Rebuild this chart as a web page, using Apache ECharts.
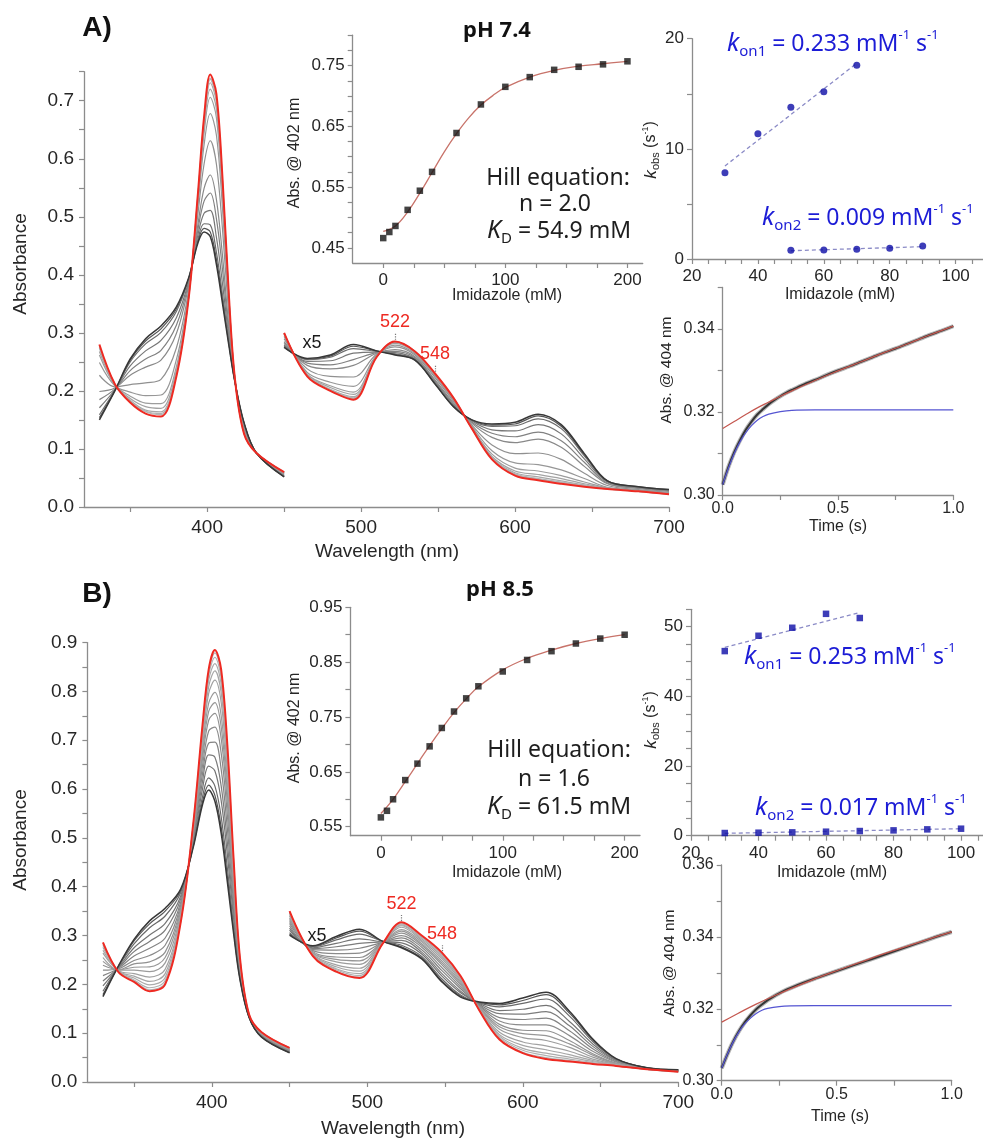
<!DOCTYPE html>
<html>
<head>
<meta charset="utf-8">
<script src="https://cdn.jsdelivr.net/npm/echarts@6/dist/echarts.min.js"></script>
<style>
  html, body { margin: 0; padding: 0; background: #ffffff; }
  #chart { width: 983px; height: 1140px; }
</style>
</head>
<body>
<div id="chart"></div>
<script>
// ---------------------------------------------------------------------------
// Imidazole titration of the heme protein at pH 7.4 (A) and pH 8.5 (B)
// ---------------------------------------------------------------------------

// Wavelength grids (nm): Soret band and visible band (visible shown x5)
const wlSoret = [330, 340, 350, 360, 370, 380, 388, 394, 398, 402, 406, 410, 414, 418, 424, 432, 450];
const wlVis   = [450, 465, 480, 495, 510, 522, 535, 548, 560, 572, 585, 600, 615, 630, 645, 660, 680, 700];

// pH 7.4 spectra, in titration order (0 mM ... 200 mM imidazole, last = final)
const soretA = [
  [.150,.200,.255,.290,.312,.345,.395,.455,.474,.466,.418,.350,.280,.216,.145,.093,.052],
  [.154,.200,.253,.286,.307,.341,.394,.458,.480,.474,.427,.356,.283,.216,.144,.093,.052],
  [.159,.201,.250,.281,.301,.337,.393,.461,.488,.486,.439,.365,.286,.216,.144,.093,.053],
  [.171,.202,.243,.269,.287,.326,.389,.469,.506,.511,.465,.384,.294,.217,.142,.093,.053],
  [.185,.203,.235,.255,.270,.313,.386,.478,.527,.541,.497,.408,.304,.218,.140,.093,.054],
  [.199,.205,.227,.241,.253,.299,.382,.487,.549,.572,.530,.432,.314,.218,.138,.093,.055],
  [.227,.207,.211,.214,.220,.274,.374,.505,.591,.631,.591,.477,.333,.220,.134,.093,.057],
  [.249,.209,.198,.192,.193,.254,.368,.520,.624,.678,.641,.513,.348,.221,.131,.093,.058],
  [.262,.210,.191,.179,.178,.242,.365,.528,.644,.706,.671,.535,.357,.221,.129,.093,.059],
  [.268,.211,.187,.173,.170,.236,.363,.532,.654,.720,.686,.546,.362,.221,.128,.093,.059],
  [.274,.211,.184,.167,.164,.231,.362,.536,.662,.731,.697,.554,.366,.222,.127,.093,.060],
  [.276,.212,.182,.165,.161,.229,.361,.537,.666,.737,.703,.559,.367,.222,.127,.093,.060],
  [.277,.212,.182,.164,.159,.227,.361,.538,.668,.739,.706,.561,.368,.222,.126,.093,.060],
  [.280,.212,.180,.161,.156,.225,.360,.540,.672,.745,.712,.565,.370,.222,.126,.093,.060]
];
const visA = [
  [.275,.256,.262,.280,.269,.262,.253,.212,.173,.150,.143,.146,.160,.142,.092,.045,.035,.030],
  [.276,.255,.260,.277,.269,.263,.253,.213,.173,.150,.141,.143,.157,.139,.090,.045,.035,.030],
  [.277,.254,.258,.273,.268,.264,.254,.213,.174,.149,.139,.140,.152,.135,.088,.044,.034,.029],
  [.279,.251,.252,.265,.267,.266,.255,.215,.175,.148,.133,.131,.142,.126,.083,.043,.034,.029],
  [.282,.248,.245,.254,.266,.268,.257,.217,.177,.146,.127,.121,.129,.114,.077,.041,.033,.028],
  [.285,.244,.238,.244,.265,.271,.259,.219,.179,.144,.120,.111,.117,.103,.070,.040,.032,.027],
  [.290,.238,.225,.224,.263,.276,.262,.223,.182,.141,.107,.092,.093,.082,.058,.037,.030,.025],
  [.294,.232,.215,.208,.261,.279,.264,.226,.184,.139,.097,.076,.073,.064,.049,.034,.029,.024],
  [.297,.229,.209,.198,.260,.282,.266,.227,.186,.137,.091,.067,.062,.054,.043,.033,.028,.023],
  [.298,.228,.206,.194,.259,.283,.267,.228,.187,.136,.087,.062,.056,.049,.040,.032,.028,.023],
  [.299,.227,.203,.190,.259,.284,.267,.229,.187,.136,.085,.059,.052,.045,.038,.032,.027,.022],
  [.299,.226,.202,.188,.258,.284,.268,.229,.188,.135,.084,.057,.049,.043,.037,.031,.027,.022],
  [.300,.226,.201,.187,.258,.285,.268,.230,.188,.135,.083,.056,.048,.042,.036,.031,.027,.022],
  [.300,.225,.200,.185,.258,.285,.268,.230,.188,.135,.082,.054,.046,.040,.035,.031,.027,.022]
];

// pH 8.5 spectra, in titration order
const soretB = [
  [.175,.238,.292,.330,.356,.395,.480,.568,.598,.575,.510,.410,.305,.212,.132,.092,.060],
  [.179,.237,.289,.324,.350,.392,.482,.574,.608,.587,.523,.421,.311,.214,.132,.092,.060],
  [.186,.237,.283,.316,.340,.388,.485,.584,.623,.606,.544,.438,.320,.217,.133,.093,.061],
  [.197,.235,.275,.301,.325,.381,.489,.600,.647,.637,.577,.466,.336,.221,.133,.094,.062],
  [.207,.234,.267,.288,.311,.375,.494,.615,.670,.665,.607,.491,.349,.225,.134,.095,.063],
  [.218,.233,.258,.274,.295,.368,.498,.631,.694,.696,.641,.519,.365,.230,.134,.096,.064],
  [.229,.232,.249,.259,.280,.362,.503,.647,.719,.727,.674,.547,.380,.235,.135,.097,.065],
  [.239,.230,.242,.246,.266,.356,.507,.662,.741,.755,.704,.572,.394,.239,.135,.098,.066],
  [.247,.230,.235,.236,.255,.351,.511,.673,.759,.777,.728,.592,.404,.242,.136,.099,.067],
  [.255,.229,.229,.226,.244,.346,.514,.685,.776,.798,.751,.612,.415,.245,.136,.099,.067],
  [.264,.228,.222,.215,.231,.341,.518,.698,.796,.823,.778,.634,.427,.249,.137,.100,.068],
  [.270,.227,.217,.206,.222,.337,.520,.707,.810,.842,.798,.651,.437,.252,.137,.101,.069],
  [.276,.226,.213,.199,.214,.333,.523,.715,.823,.857,.815,.665,.444,.254,.137,.101,.069],
  [.280,.226,.209,.193,.208,.330,.525,.722,.833,.870,.828,.676,.450,.256,.138,.102,.070],
  [.284,.225,.207,.189,.203,.328,.526,.727,.840,.879,.838,.684,.455,.257,.138,.102,.070],
  [.286,.225,.205,.186,.200,.327,.527,.730,.845,.885,.845,.690,.458,.258,.138,.102,.070]
];
const visB = [
  [.301,.279,.298,.313,.288,.275,.252,.205,.174,.164,.161,.172,.184,.145,.088,.048,.029,.025],
  [.303,.278,.295,.309,.288,.277,.254,.207,.176,.163,.158,.167,.179,.141,.086,.047,.029,.025],
  [.306,.277,.291,.303,.288,.280,.257,.211,.178,.162,.154,.161,.170,.135,.083,.047,.029,.025],
  [.311,.275,.284,.293,.287,.285,.262,.217,.183,.161,.146,.149,.157,.124,.078,.045,.028,.024],
  [.315,.273,.277,.284,.287,.290,.266,.222,.186,.159,.140,.139,.144,.115,.073,.044,.028,.024],
  [.320,.271,.270,.274,.286,.295,.271,.228,.191,.157,.132,.128,.131,.105,.068,.042,.028,.023],
  [.325,.269,.263,.264,.286,.300,.276,.234,.195,.156,.125,.117,.117,.095,.063,.041,.028,.023],
  [.329,.267,.256,.255,.286,.305,.280,.240,.199,.154,.118,.106,.105,.085,.058,.039,.027,.023],
  [.333,.265,.251,.248,.285,.309,.283,.244,.202,.153,.113,.099,.095,.078,.055,.038,.027,.022],
  [.336,.264,.246,.241,.285,.312,.287,.248,.205,.152,.108,.091,.085,.071,.051,.037,.027,.022],
  [.340,.262,.240,.233,.285,.317,.290,.253,.208,.150,.102,.082,.074,.063,.047,.036,.027,.022],
  [.343,.261,.236,.227,.285,.320,.293,.257,.211,.149,.097,.075,.066,.056,.044,.035,.026,.022],
  [.346,.260,.232,.222,.284,.322,.296,.260,.213,.149,.094,.069,.059,.051,.042,.034,.026,.021],
  [.348,.259,.230,.218,.284,.324,.298,.262,.215,.148,.091,.065,.054,.047,.040,.034,.026,.021],
  [.349,.258,.227,.215,.284,.326,.299,.264,.216,.147,.088,.061,.050,.044,.038,.033,.026,.021],
  [.350,.258,.226,.213,.284,.327,.300,.265,.217,.147,.087,.059,.047,.042,.037,.033,.026,.021]
];

// Marked band positions (nm)
const soretPeaks = [402];
const visPeaks = [522, 548];

// Binding isotherms: Abs @ 402 nm vs imidazole (mM) and Hill fits
const hillAX = [0, 5, 10, 20, 30, 40, 60, 80, 100, 120, 140, 160, 180, 200];
const hillAY = [.466, .476, .486, .5125, .544, .575, .639, .686, .715, .731, .743, .748, .752, .757];
const hillFitAX = [0, 10, 20, 30, 40, 50, 60, 70, 80, 90, 100, 120, 140, 160, 180, 200];
const hillFitAY = [.477, .486, .509, .540, .574, .608, .638, .664, .685, .701, .714, .731, .742, .749, .753, .757];

const hillBX = [0, 5, 10, 20, 30, 40, 50, 60, 70, 80, 100, 120, 140, 160, 180, 200];
const hillBY = [.567, .579, .600, .635, .665, .6965, .730, .760, .784, .806, .833, .854, .870, .884, .893, .900];
const hillFitBX = [0, 10, 20, 30, 40, 50, 60, 70, 80, 100, 120, 140, 160, 180, 200];
const hillFitBY = [.574, .600, .632, .665, .698, .729, .758, .783, .805, .836, .857, .872, .884, .893, .900];

// Observed rate constants (s^-1) vs imidazole (mM), with linear fits
const kobsA1X = [30, 40, 50, 60, 70];
const kobsA1Y = [7.84, 11.38, 13.77, 15.19, 17.6];
const kobsA2X = [50, 60, 70, 80, 90];
const kobsA2Y = [0.79, 0.82, 0.88, 0.97, 1.18];
const konFitA1X = [30, 70], konFitA1Y = [8.45, 17.77];
const konFitA2X = [50, 90], konFitA2Y = [0.75, 1.12];

const kobsB1X = [30, 40, 50, 60, 70];
const kobsB1Y = [53.0, 57.4, 59.7, 63.7, 62.5];
const kobsB2X = [30, 40, 50, 60, 70, 80, 90, 100];
const kobsB2Y = [0.77, 0.86, 0.96, 1.15, 1.34, 1.53, 1.82, 2.01];
const konFitB1X = [30, 70], konFitB1Y = [54.1, 64.1];
const konFitB2X = [30, 100], konFitB2Y = [0.68, 2.01];

// Stopped-flow traces: Abs @ 404 nm vs time (s)
const traceT = [0, .025, .05, .075, .1, .125, .15, .175, .2, .225, .25, .275, .3, .35, .4, .45, .5, .55, .6, .65, .7, .75, .8, .85, .9, .95, 1.0];
const traceA = [.3025, .3068, .3103, .3132, .3157, .3177, .3194, .3207, .3219, .3229, .3238, .3246, .3253, .3266, .3277, .3289, .3300, .3310, .3321, .3332, .3343, .3353, .3364, .3375, .3386, .3396, .3407];
const traceB = [.3035, .3074, .3109, .3138, .3162, .3182, .3199, .3212, .3224, .3234, .3243, .3251, .3258, .3271, .3283, .3294, .3305, .3316, .3327, .3338, .3349, .3360, .3371, .3382, .3393, .3404, .3414];
const slowFitT = [0, .05, .1, .15, .2, .25, .3, .4, .5, .6, .7, .8, .9, 1.0];
const slowFitA = [.3160, .3177, .3194, .3210, .3224, .3238, .3251, .3276, .3299, .3321, .3343, .3364, .3386, .3407];
const slowFitB = [.3163, .3180, .3197, .3213, .3228, .3242, .3256, .3282, .3306, .3329, .3352, .3373, .3394, .3414];
const fastFitT = [0, .025, .05, .075, .1, .125, .15, .175, .2, .25, .3, .4, .6, .8, 1.0];
const fastFitA = [.3025, .3065, .3100, .3128, .3150, .3167, .3180, .3189, .3195, .3201, .3204, .3205, .3205, .3205, .3205];
const fastFitB = [.3035, .3074, .3108, .3136, .3158, .3174, .3187, .3196, .3201, .3206, .3208, .3209, .3209, .3209, .3209];

// Axis tick positions and labels
const specXTicks = [350, 400, 450, 500, 550, 600, 650, 700];
const specXLabels = [400, 500, 600, 700];
const specAYTicks = [0, .05, .1, .15, .2, .25, .3, .35, .4, .45, .5, .55, .6, .65, .7, .75];
const specAYLabels = [0, .1, .2, .3, .4, .5, .6, .7];
const specBYTicks = [0, .05, .1, .15, .2, .25, .3, .35, .4, .45, .5, .55, .6, .65, .7, .75, .8, .85, .9];
const specBYLabels = [0, .1, .2, .3, .4, .5, .6, .7, .8, .9];
const hillXTicks = [0, 25, 50, 75, 100, 125, 150, 175, 200];
const hillXLabels = [0, 100, 200];
const hillAYTicks = [.45, .475, .5, .525, .55, .575, .6, .625, .65, .675, .7, .725, .75, .775, .8];
const hillAYLabels = [.45, .55, .65, .75];
const hillBYTicks = [.55, .6, .65, .7, .75, .8, .85, .9, .95];
const hillBYLabels = [.55, .65, .75, .85, .95];
const kobsXTicks = [20, 25, 30, 35, 40, 45, 50, 55, 60, 65, 70, 75, 80, 85, 90, 95, 100, 105];
const kobsXLabels = [20, 40, 60, 80, 100];
const kobsAYTicks = [0, 5, 10, 15, 20];
const kobsAYLabels = [0, 10, 20];
const kobsBYTicks = [0, 5, 10, 15, 20, 25, 30, 35, 40, 45, 50, 55, 60, 65];
const kobsBYLabels = [0, 20, 40, 60];
const kobsBYLabelText = ['0', '20', '40', '50'];
const kinXTicks = [0, .25, .5, .75, 1];
const kinXLabels = [0, .5, 1];
const kinAYTicks = [.30, .31, .32, .33, .34, .35];
const kinAYLabels = [.30, .32, .34];
const kinBYTicks = [.30, .31, .32, .33, .34, .35, .36];
const kinBYLabels = [.30, .32, .34, .36];

// ---------------------------------------------------------------------------
const AXIS_FONT = '"Liberation Sans", Arial, Helvetica, sans-serif';
const TEXT_FONT = '"Noto Sans", "Open Sans", sans-serif';
const RED = '#ee2a22';
const TXT_BLUE = '#1c1cd6';
const PT_BLUE = '#0c0ca6';
const DASH_BLUE = '#8a8ac6';
const FIT_RED = '#c8736a';
const AXIS_GRAY = '#8c8c8c';
const LABEL_COLOR = '#262626';

const pairs = (xs, ys) => xs.map((x, i) => [x, ys[i]]);
const fixed = n => v => v.toFixed(n);

function grid(left, top, width, height) {
  return { left, top, width, height, containLabel: false, outerBoundsMode: 'none' };
}

function axis(gridIndex, min, max, ticks, labels, fmt, fontSize, margin) {
  return {
    type: 'value', gridIndex, min, max,
    splitLine: { show: false },
    axisLine: { show: true, onZero: false, lineStyle: { color: AXIS_GRAY, width: 1.3 } },
    axisTick: { show: true, inside: false, length: 5, customValues: ticks,
                lineStyle: { color: AXIS_GRAY, width: 1.2 } },
    axisLabel: { show: true, customValues: labels, formatter: fmt, color: LABEL_COLOR,
                 fontFamily: AXIS_FONT, fontSize, margin, hideOverlap: false,
                 showMinLabel: true, showMaxLabel: true }
  };
}

// One line per titration step; dark grey for the starting spectrum, lighter greys
// for the intermediate steps and red for the final spectrum
function spectrumSeries(rows, wl, axisIdx, peaks, markLo, markHi) {
  const n = rows.length;
  return rows.map((row, i) => {
    const isFinal = i === n - 1;
    const g = i === 0 ? 55 : Math.round(85 + 95 * Math.pow((i - 1) / (n - 3), 0.6));
    const s = {
      type: 'line', xAxisIndex: axisIdx, yAxisIndex: axisIdx,
      data: pairs(wl, row), symbol: 'none', showSymbol: false,
      smooth: 0.35, silent: true, animation: false, clip: false,
      lineStyle: { width: isFinal ? 2 : (i === 0 ? 1.5 : 1.2),
                   color: isFinal ? RED : `rgb(${g},${g},${g})` },
      z: isFinal ? 4 : (i === 0 ? 3.5 : 3)
    };
    if (isFinal && peaks.length) {
      s.markLine = {
        silent: true, animation: false, symbol: ['none', 'none'],
        lineStyle: { type: 'dotted', color: '#7a7a7a', width: 1.2 },
        label: { show: true, position: 'end', distance: 2, formatter: '{b}', color: RED,
                 fontFamily: AXIS_FONT, fontSize: 18 },
        data: peaks.map(p => {
          const v = row[wl.indexOf(p)];
          return [{ name: String(p), coord: [p, v + markLo] }, { coord: [p, v + markHi] }];
        })
      };
    }
    return s;
  });
}

function fitLine(ax, xs, ys, color, width, dashed, smooth, z) {
  return {
    type: 'line', xAxisIndex: ax, yAxisIndex: ax, data: pairs(xs, ys),
    symbol: 'none', showSymbol: false, smooth: smooth || false, silent: true, animation: false,
    lineStyle: { color, width, type: dashed ? [4, 3] : 'solid' }, z: z || 5
  };
}

function points(ax, xs, ys, symbol, size, color) {
  return {
    type: 'scatter', xAxisIndex: ax, yAxisIndex: ax, data: pairs(xs, ys),
    symbol, symbolSize: size, silent: true, animation: false,
    itemStyle: { color }, z: 6
  };
}

function txt(x, y, text, o) {
  o = o || {};
  return {
    type: 'text', x, y, rotation: o.rot || 0, silent: true, z: 100,
    style: {
      text, fill: o.color || LABEL_COLOR,
      fontFamily: o.family || AXIS_FONT, fontSize: o.size || 16,
      fontWeight: o.weight || 'normal', fontStyle: o.style || 'normal',
      align: o.align || 'center', textAlign: o.align || 'center',
      verticalAlign: 'middle', textVerticalAlign: 'middle',
      rich: o.rich
    }
  };
}

function richSet(size, color, family) {
  const base = { fontFamily: family, fill: color, color };
  return {
    i: Object.assign({}, base, { fontSize: size * 1.08, fontStyle: 'italic', lineHeight: size * 1.3, verticalAlign: 'middle' }),
    n: Object.assign({}, base, { fontSize: size, lineHeight: size * 1.3, verticalAlign: 'middle' }),
    s: Object.assign({}, base, { fontSize: Math.round(size * 0.66), lineHeight: Math.round(size * 0.66), verticalAlign: 'bottom' }),
    p: Object.assign({}, base, { fontSize: Math.round(size * 0.58), lineHeight: Math.round(size * 0.85), verticalAlign: 'top' })
  };
}

const kobsTitle = (x, y) => txt(x, y, '{i|k}{s|obs}{n| (s}{p|-1}{n|)}',
  { rot: Math.PI / 2, rich: richSet(16, LABEL_COLOR, AXIS_FONT) });
const konText = (x, y, idx, val) => txt(x, y, `{i|k}{s|on${idx}}{n| = ${val} mM}{p|-1}{n| s}{p|-1}`,
  { align: 'left', rich: richSet(23, TXT_BLUE, TEXT_FONT) });
const kdText = (x, y, val) => txt(x, y, `{i|K}{s|D}{n| = ${val} mM}`,
  { rich: richSet(23, '#1e1e1e', TEXT_FONT) });
const plain = (x, y, text, size) => txt(x, y, text, { family: TEXT_FONT, size, color: '#1e1e1e' });

// Noisy stopped-flow record: a soft grey band under a darker core line
function traceSeries(ax, ys) {
  return [
    fitLine(ax, traceT, ys, 'rgba(120,120,120,0.55)', 4.2, false, 0.3, 4),
    fitLine(ax, traceT, ys, 'rgba(30,30,30,0.85)', 2, false, 0.3, 4.5)
  ];
}

// ---------------------------------------------------------------------------
const chart = echarts.init(document.getElementById('chart'), null, { renderer: 'canvas' });

const option = {
  backgroundColor: '#ffffff',
  animation: false,
  grid: [
    grid(84, 71.7, 585, 435.3),      // 0 A spectra
    grid(352.7, 35.2, 290, 227.8),   // 1 A isotherm
    grid(692, 38.7, 291, 220.3),     // 2 A kobs
    grid(722.7, 287.5, 230.6, 207.5),// 3 A kinetics
    grid(87.4, 642.6, 590.9, 439.4), // 4 B spectra
    grid(350.4, 607.3, 289.6, 228.4),// 5 B isotherm
    grid(691, 609.3, 292, 226.4),    // 6 B kobs
    grid(721.7, 865, 230, 215.7)     // 7 B kinetics
  ],
  xAxis: [
    axis(0, 320, 700, specXTicks, specXLabels, fixed(0), 19, 11),
    axis(1, -25, 212.5, hillXTicks, hillXLabels, fixed(0), 17, 9),
    axis(2, 20, 108.3, kobsXTicks, kobsXLabels, fixed(0), 17, 9),
    axis(3, 0, 1, kinXTicks, kinXLabels, fixed(1), 16, 6),
    axis(4, 320, 700, specXTicks, specXLabels, fixed(0), 19, 11),
    axis(5, -25, 212.6, hillXTicks, hillXLabels, fixed(0), 17, 9),
    axis(6, 20, 106.5, kobsXTicks, kobsXLabels, fixed(0), 17, 9),
    axis(7, 0, 1, kinXTicks, kinXLabels, fixed(1), 16, 6)
  ],
  yAxis: [
    axis(0, 0, .75, specAYTicks, specAYLabels, fixed(1), 19, 10),
    axis(1, .425, .80, hillAYTicks, hillAYLabels, fixed(2), 17, 8),
    axis(2, 0, 20, kobsAYTicks, kobsAYLabels, fixed(0), 17, 8),
    axis(3, .30, .35, kinAYTicks, kinAYLabels, fixed(2), 16, 8),
    axis(4, 0, .9, specBYTicks, specBYLabels, fixed(1), 19, 10),
    axis(5, .5336, .95, hillBYTicks, hillBYLabels, fixed(2), 17, 8),
    axis(6, 0, 65, kobsBYTicks, kobsBYLabels,
         v => { const k = kobsBYLabels.indexOf(v); return k >= 0 ? kobsBYLabelText[k] : ''; }, 17, 8),
    axis(7, .30, .36, kinBYTicks, kinBYLabels, fixed(2), 16, 8)
  ],
  series: [
    // A: spectra
    ...spectrumSeries(soretA, wlSoret, 0, soretPeaks, .006, .016),
    ...spectrumSeries(visA, wlVis, 0, visPeaks, .003, .015),
    // A: isotherm
    fitLine(1, hillFitAX, hillFitAY, FIT_RED, 1.3, false, 0.4),
    points(1, hillAX, hillAY, 'rect', 6.5, '#141414'),
    // A: kobs
    fitLine(2, konFitA1X, konFitA1Y, DASH_BLUE, 1.3, true),
    fitLine(2, konFitA2X, konFitA2Y, DASH_BLUE, 1.3, true),
    points(2, kobsA1X, kobsA1Y, 'circle', 7, PT_BLUE),
    points(2, kobsA2X, kobsA2Y, 'circle', 7, PT_BLUE),
    // A: kinetics
    ...traceSeries(3, traceA),
    fitLine(3, fastFitT, fastFitA, '#5555d2', 1.2, false, 0.4),
    fitLine(3, slowFitT, slowFitA, '#c4574f', 1.2, false, 0.4),
    // B: spectra
    ...spectrumSeries(soretB, wlSoret, 4, soretPeaks, .006, .02),
    ...spectrumSeries(visB, wlVis, 4, visPeaks, .003, .016),
    // B: isotherm
    fitLine(5, hillFitBX, hillFitBY, FIT_RED, 1.3, false, 0.4),
    points(5, hillBX, hillBY, 'rect', 6.5, '#141414'),
    // B: kobs
    fitLine(6, konFitB1X, konFitB1Y, DASH_BLUE, 1.3, true),
    fitLine(6, konFitB2X, konFitB2Y, DASH_BLUE, 1.3, true),
    points(6, kobsB1X, kobsB1Y, 'rect', 6.5, PT_BLUE),
    points(6, kobsB2X, kobsB2Y, 'rect', 6.5, PT_BLUE),
    // B: kinetics
    ...traceSeries(7, traceB),
    fitLine(7, fastFitT, fastFitB, '#5555d2', 1.2, false, 0.4),
    fitLine(7, slowFitT, slowFitB, '#c4574f', 1.2, false, 0.4)
  ],
  graphic: [
    // Panel A
    txt(97, 28, 'A)', { size: 28, weight: 'bold', color: '#111' }),
    txt(21, 264, 'Absorbance', { rot: Math.PI / 2, size: 19 }),
    txt(387, 552, 'Wavelength (nm)', { size: 19 }),
    txt(312, 343, 'x5', { size: 18, color: '#1a1a1a' }),
    txt(497, 31, 'pH 7.4', { family: TEXT_FONT, size: 22, weight: 'bold', color: '#111' }),
    plain(558, 178, 'Hill equation:', 23),
    plain(555, 204, 'n = 2.0', 23),
    kdText(559, 231, '54.9'),
    txt(295, 153, 'Abs. @ 402 nm', { rot: Math.PI / 2, size: 16 }),
    txt(507, 296, 'Imidazole (mM)', { size: 16 }),
    kobsTitle(651, 150),
    konText(727, 44, 1, '0.233'),
    konText(762, 218, 2, '0.009'),
    txt(840, 295, 'Imidazole (mM)', { size: 16 }),
    txt(667, 370, 'Abs. @ 404 nm', { rot: Math.PI / 2, size: 15.5 }),
    txt(838, 527, 'Time (s)', { size: 16 }),
    // Panel B
    txt(97, 594, 'B)', { size: 28, weight: 'bold', color: '#111' }),
    txt(21, 840, 'Absorbance', { rot: Math.PI / 2, size: 19 }),
    txt(393, 1129, 'Wavelength (nm)', { size: 19 }),
    txt(317, 936, 'x5', { size: 18, color: '#1a1a1a' }),
    txt(500, 590, 'pH 8.5', { family: TEXT_FONT, size: 22, weight: 'bold', color: '#111' }),
    plain(559, 750, 'Hill equation:', 23),
    plain(554, 779, 'n = 1.6', 23),
    kdText(559, 807, '61.5'),
    txt(295, 728, 'Abs. @ 402 nm', { rot: Math.PI / 2, size: 16 }),
    txt(507, 873, 'Imidazole (mM)', { size: 16 }),
    kobsTitle(651, 720),
    konText(744, 657, 1, '0.253'),
    konText(755, 808, 2, '0.017'),
    txt(832, 873, 'Imidazole (mM)', { size: 16 }),
    txt(670, 963, 'Abs. @ 404 nm', { rot: Math.PI / 2, size: 15.5 }),
    txt(840, 1117, 'Time (s)', { size: 16 })
  ]
};

chart.setOption(option);
</script>
</body>
</html>
